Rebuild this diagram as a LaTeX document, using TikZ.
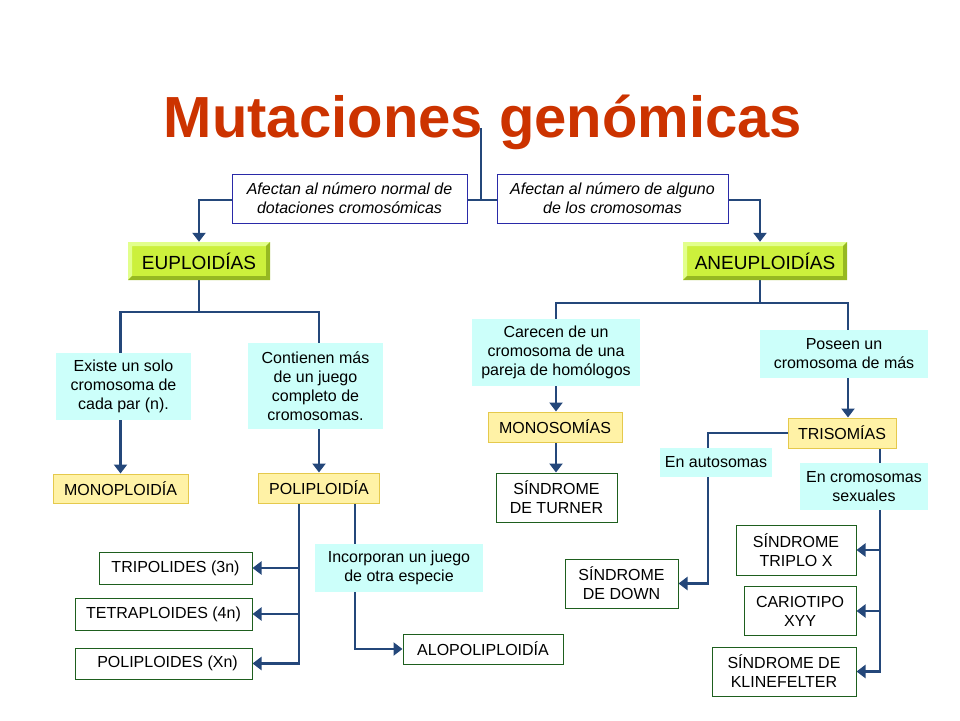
\documentclass[tikz,border=0pt]{standalone}
\usepackage{fontspec}
\setmainfont{Liberation Sans}
\usetikzlibrary{arrows.meta,backgrounds}
\definecolor{titlered}{HTML}{CC3300}
\definecolor{linkblue}{HTML}{24477A}
\definecolor{topblue}{HTML}{2A2AA8}
\definecolor{boxgreen}{HTML}{1E5E1E}
\definecolor{cyanfill}{HTML}{CCFFFA}
\definecolor{yellowfill}{HTML}{FFF2A6}
\definecolor{yellowline}{HTML}{E5C94C}
\definecolor{bevface}{HTML}{CCF03C}
\definecolor{bevlite}{HTML}{E2FF8C}
\definecolor{bevdark}{HTML}{96B822}
\begin{document}
\begin{tikzpicture}[x=1pt,y=-1pt,
    conn/.style={line width=2.4pt,draw=linkblue},
    arr/.style={-{Triangle[width=13pt,length=9pt]}},
    size/.style 2 args={minimum width=#1pt,minimum height=#2pt},
    box/.style={inner sep=0pt,align=center,font=\fontsize{16}{19}\selectfont},
    whitebox/.style={box,draw=boxgreen,line width=1pt,fill=white},
    cyanbox/.style={box,fill=cyanfill},
    yellowbox/.style={box,draw=yellowline,line width=1pt,fill=yellowfill},
    topbox/.style={box,draw=topblue,line width=1pt,fill=white,
      font=\fontsize{16}{19}\selectfont\itshape},
    bevelbox/.style={box,fill=bevface,font=\fontsize{19}{22}\selectfont,
      path picture={
        \fill[bevlite] (path picture bounding box.south west)
          -- (path picture bounding box.north west)
          -- (path picture bounding box.north east)
          -- ([xshift=-4pt,yshift=-4pt]path picture bounding box.north east)
          -- ([xshift=4pt,yshift=-4pt]path picture bounding box.north west)
          -- ([xshift=4pt,yshift=4pt]path picture bounding box.south west) -- cycle;
        \fill[bevdark] (path picture bounding box.south west)
          -- (path picture bounding box.south east)
          -- (path picture bounding box.north east)
          -- ([xshift=-4pt,yshift=-4pt]path picture bounding box.north east)
          -- ([xshift=-4pt,yshift=4pt]path picture bounding box.south east)
          -- ([xshift=4pt,yshift=4pt]path picture bounding box.south west) -- cycle;
      }}]
  \useasboundingbox (0,0) rectangle (960,720);

  % Drawing title
  \node[anchor=base,text=titlered,font=\fontsize{58}{70}\selectfont\bfseries]
    (title) at (483,137) {Mutaciones genómicas};
  \coordinate (stem) at (481,128);
  \coordinate (hub) at (481,200);

  % Drawing boxes of the first level
  \node[topbox,size={235}{49}] (afect1) at (349.5,198.5) {Afectan al número normal de\\dotaciones cromosómicas};
  \node[topbox,size={231}{49}] (afect2) at (612.5,198.5) {Afectan al número de alguno\\de los cromosomas};
  \node[bevelbox,size={142}{38}] (eu) at (199,261) {EUPLOIDÍAS};
  \node[bevelbox,size={164}{38}] (aneu) at (765,261) {ANEUPLOIDÍAS};

  % Drawing boxes of branch EUPLOIDIAS
  \node[cyanbox,size={135}{67}] (existe) at (123.5,386.5) {Existe un solo\\cromosoma de\\cada par (n).};
  \node[cyanbox,size={135}{86}] (contienen) at (315.5,386) {Contienen más\\de un juego\\completo de\\cromosomas.};
  \node[yellowbox,size={135}{29}] (mono) at (120.5,488.5) {MONOPLOIDÍA};
  \node[yellowbox,size={121}{30}] (poli) at (319,488) {POLIPLOIDÍA};
  \node[whitebox,size={153}{32}] (tri) at (175.5,568) {TRIPOLIDES (3n)};
  \node[whitebox,size={177}{32}] (tetra) at (163.5,614) {TETRAPLOIDES (4n)};
  \node[whitebox,size={177}{31}] (polix) at (163.5,663.5) {\hspace{8pt}POLIPLOIDES (Xn)};
  \node[cyanbox,size={168}{48}] (incorp) at (399,568) {Incorporan un juego\\de otra especie};
  \node[whitebox,size={160}{30}] (alo) at (483,649) {ALOPOLIPLOIDÍA};

  % Drawing boxes of branch ANEUPLOIDIAS
  \node[cyanbox,size={168}{67}] (carecen) at (556,352.5) {Carecen de un\\cromosoma de una\\pareja de homólogos};
  \node[yellowbox,size={134}{30}] (monos) at (555,427) {MONOSOMÍAS};
  \node[whitebox,size={121}{49}] (turner) at (556.5,497.5) {SÍNDROME\\DE TURNER};
  \node[cyanbox,size={168}{48}] (poseen) at (844,354) {Poseen un\\cromosoma de más};
  \node[yellowbox,size={108}{30}] (tris) at (842,433) {TRISOMÍAS};
  \node[cyanbox,size={112}{29}] (auto) at (716,462.5) {En autosomas};
  \node[cyanbox,size={128}{47}] (sexual) at (864,486.5) {En cromosomas\\sexuales};
  \node[whitebox,size={113}{49}] (down) at (621.5,583.5) {SÍNDROME\\DE DOWN};
  \node[whitebox,size={120}{50}] (triplo) at (796,550) {SÍNDROME\\TRIPLO X};
  \node[whitebox,size={112}{49}] (xyy) at (800,611) {CARIOTIPO\\XYY};
  \node[whitebox,size={144}{49}] (kline) at (784,671.5) {SÍNDROME DE\\KLINEFELTER};

  \begin{scope}[on background layer]
    % Drawing segment title hub
    \draw[conn] (stem) -- (hub);
    \draw[conn,arr] (hub) -| (eu.north);
    \draw[conn,arr] (hub) -| ([xshift=-5pt]aneu.north);

    % Drawing segments of EUPLOIDIAS
    \coordinate (eujn) at (199,312);
    \draw[conn] (eu.south) -- (eujn);
    \draw[conn] (mono.north |- existe.north) |- (eujn) -| (poli.north |- contienen.north);
    \draw[conn,arr] (mono.north |- existe.south) -- (mono.north);
    \draw[conn,arr] (poli.north |- contienen.south) -- (poli.north);

    % Drawing segments of POLIPLOIDIA
    \coordinate (polil) at (299,503);
    \coordinate (polir) at (355,503);
    \draw[conn,arr] (polil) |- (polix.east);
    \draw[conn,arr] (polil |- tri.east) -- (tri.east);
    \draw[conn,arr] (polil |- tetra.east) -- (tetra.east);
    \draw[conn,arr] (polir) |- (alo.west);

    % Drawing segments of ANEUPLOIDIAS
    \coordinate (anjn) at (760,303);
    \draw[conn] ([xshift=-5pt]aneu.south) -- (anjn);
    \draw[conn] (carecen.north) |- (anjn) -| ([xshift=4pt]poseen.north);
    \draw[conn,arr] (carecen.south) -- (carecen.south |- monos.north);
    \draw[conn,arr] (monos.south -| carecen.south) -- (turner.north -| carecen.south);
    \coordinate (trisin) at ([xshift=4pt]poseen.south);
    \draw[conn,arr] (trisin) -- (trisin |- tris.north);

    % Drawing segments of TRISOMIAS
    \coordinate (autobend) at (708,433);
    \draw[conn,arr] (tris.west) -- (autobend) |- (down.east);
    \coordinate (sexln) at ([xshift=38pt]tris.south);
    \draw[conn,arr] (sexln) |- (kline.east);
    \draw[conn,arr] (sexln |- triplo.east) -- (triplo.east);
    \draw[conn,arr] (sexln |- xyy.east) -- (xyy.east);
  \end{scope}
\end{tikzpicture}
\end{document}
